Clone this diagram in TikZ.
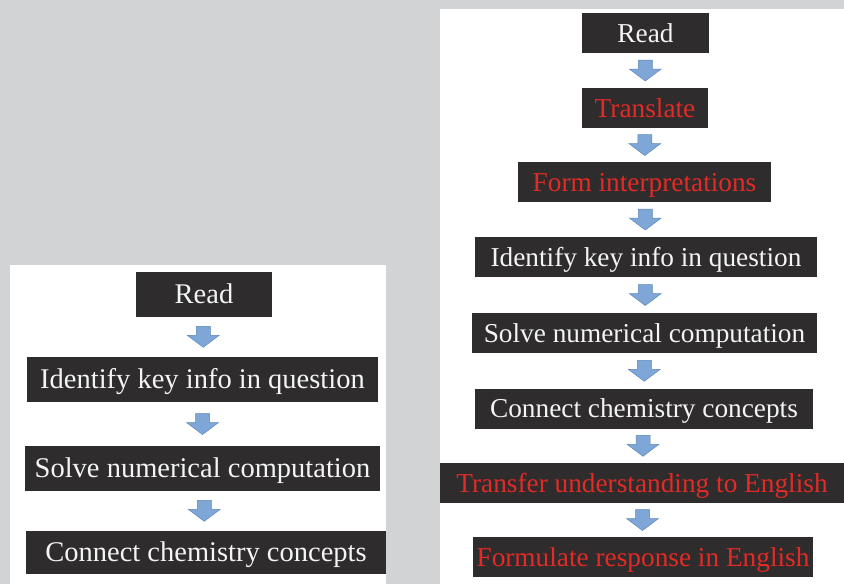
\documentclass[tikz,border=0pt]{standalone}
\usepackage{fontspec}
\setmainfont{Liberation Serif}
\usetikzlibrary{calc}
\definecolor{bggray}{HTML}{D2D3D5}
\definecolor{boxdark}{HTML}{2E2C2C}
\definecolor{redtxt}{HTML}{E32A26}
\definecolor{arrfill}{HTML}{7EA6D6}
\definecolor{arrline}{HTML}{5F87B8}
\definecolor{offwhite}{HTML}{F4F4F4}
\tikzset{
  panel/.style={fill=white, draw=none},
  stepbase/.style={fill=boxdark, draw=none, inner sep=0pt, text=offwhite, align=center},
  lbox/.style={stepbase, minimum height=45pt, text height=25.6pt, text depth=6.8pt,
     font=\fontsize{28.5}{34}\selectfont},
  rbox/.style={stepbase, minimum height=40pt, text height=24.6pt, text depth=6.5pt,
     font=\fontsize{27.3}{32}\selectfont},
  redt/.style={text=redtxt},
  arrowstyle/.style={fill=arrfill, draw=arrline, line width=0.5pt, line join=miter},
  darr/.pic={\draw[arrowstyle] (-7,-10.5) -- (7,-10.5) -- (7,-1.5) -- (16,-1.5) -- (0,10.5) -- (-16,-1.5) -- (-7,-1.5) -- cycle;}
}
\begin{document}
\begin{tikzpicture}[x=1pt, y=-1pt]
\fill[bggray] (0,0) rectangle (844,584);
\useasboundingbox (0,0) rectangle (844,584);
% panels
\fill[panel] (10,265) rectangle (386,584);
\fill[panel] (440,9) rectangle (844,584);
% left column
\node[lbox, minimum width=136pt] (l1) at (204,294) {Read};
\node[lbox, minimum width=351pt] (l2) at (202.5,379.5) {Identify key info in question};
\node[lbox, minimum width=355pt] (l3) at (202.5,468.5) {Solve numerical computation};
\node[lbox, minimum width=360pt, minimum height=43pt] (l4) at (206,552) {Connect chemistry concepts};
% right column
\node[rbox, minimum width=127pt] (r1) at (645.5,33) {Read};
\node[rbox, redt, minimum width=126pt] (r2) at (645,108) {Translate};
\node[rbox, redt, minimum width=253pt] (r3) at (644.5,182) {Form interpretations};
\node[rbox, minimum width=342pt] (r4) at (646,257) {Identify key info in question};
\node[rbox, minimum width=345pt] (r5) at (644.5,333) {Solve numerical computation};
\node[rbox, minimum width=338pt] (r6) at (644,408.5) {Connect chemistry concepts};
\node[rbox, redt, minimum width=404pt] (r7) at (642,483) {Transfer understanding to English};
\node[rbox, redt, minimum width=340pt] (r8) at (643,557) {Formulate response in English};
% connectors (block arrows between consecutive steps)
\foreach \a/\b in {l1/l2,l2/l3,l3/l4,r1/r2,r2/r3,r3/r4,r4/r5,r5/r6,r6/r7,r7/r8}{
  \coordinate (m\a) at ($(\a.south)!0.5!(\b.north)$);
  \pic at (m\a) {darr};
}
\end{tikzpicture}
\end{document}
